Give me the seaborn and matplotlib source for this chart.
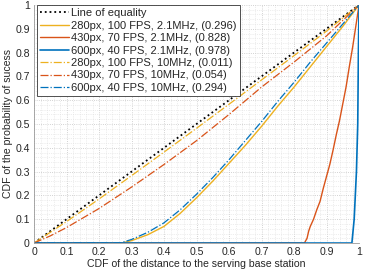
import numpy as np
import pandas as pd
import matplotlib
matplotlib.use("Agg")
import matplotlib.pyplot as plt
import seaborn as sns

# Curves (x = CDF of distance, y = CDF of success)
eq_x = [0.0, 1.0]
eq_y = [0.0, 1.0]

y280_21_x = [0.0, 0.27, 0.30, 0.35, 0.40, 0.45, 0.50, 0.55, 0.60, 0.65, 0.70, 0.75, 0.80, 0.85, 0.90, 0.95, 1.0]
y280_21_y = [0.0, 0.0, 0.01, 0.035, 0.07, 0.125, 0.19, 0.26, 0.335, 0.41, 0.49, 0.575, 0.655, 0.74, 0.825, 0.91, 1.0]

y430_21_x = [0.0, 0.832, 0.84, 0.845, 0.85, 0.86, 0.87, 0.88, 0.89, 0.90, 0.91, 0.92, 0.93, 0.94, 0.95, 0.96, 0.97, 0.98, 0.99, 1.0]
y430_21_y = [0.0, 0.0, 0.02, 0.05, 0.07, 0.1, 0.14, 0.175, 0.23, 0.28, 0.33, 0.39, 0.455, 0.515, 0.585, 0.655, 0.74, 0.82, 0.91, 1.0]

y600_21_x = [0.0, 0.978, 0.985, 0.992, 0.996, 0.998, 1.0]
y600_21_y = [0.0, 0.0, 0.1, 0.3, 0.5, 0.8, 1.0]

y280_10_x = [0.0, 0.1, 0.2, 0.3, 0.4, 0.5, 0.6, 0.7, 0.8, 0.9, 1.0]
y280_10_y = [0.0, 0.09, 0.185, 0.283, 0.382, 0.482, 0.583, 0.685, 0.787, 0.89, 1.0]

y430_10_x = [0.0, 0.05, 0.1, 0.2, 0.3, 0.4, 0.5, 0.6, 0.7, 0.8, 0.9, 1.0]
y430_10_y = [0.0, 0.03, 0.065, 0.145, 0.235, 0.33, 0.43, 0.54, 0.655, 0.76, 0.87, 1.0]

y600_10_x = [0.0, 0.265, 0.30, 0.35, 0.40, 0.45, 0.50, 0.55, 0.60, 0.65, 0.70, 0.75, 0.80, 0.85, 0.90, 0.95, 1.0]
y600_10_y = [0.0, 0.0, 0.015, 0.045, 0.085, 0.14, 0.205, 0.275, 0.35, 0.43, 0.51, 0.595, 0.675, 0.76, 0.84, 0.92, 1.0]

ticks = [0.0, 0.1, 0.2, 0.3, 0.4, 0.5, 0.6, 0.7, 0.8, 0.9, 1.0]
tick_labels = ["0", "0.1", "0.2", "0.3", "0.4", "0.5", "0.6", "0.7", "0.8", "0.9", "1"]

labels = [
    "Line of equality",
    "280px, 100 FPS, 2.1MHz, (0.296)",
    "430px, 70 FPS, 2.1MHz, (0.828)",
    "600px, 40 FPS, 2.1MHz, (0.978)",
    "280px, 100 FPS, 10MHz, (0.011)",
    "430px, 70 FPS, 10MHz, (0.054)",
    "600px, 40 FPS, 10MHz, (0.294)",
]

blue, red, yellow = "#0072BD", "#D95319", "#EDB120"

sns.set_theme(style="white")
plt.rcParams["font.family"] = ["Liberation Sans", "DejaVu Sans"]

fig = plt.figure(figsize=(3.66, 2.74), dpi=100)
ax = fig.add_axes([0.093, 0.113, 0.888, 0.869])

series = [
    (eq_x, eq_y, "black", ":", 1.3),
    (y280_21_x, y280_21_y, yellow, "-", 1.0),
    (y430_21_x, y430_21_y, red, "-", 1.0),
    (y600_21_x, y600_21_y, blue, "-", 1.2),
    (y280_10_x, y280_10_y, yellow, "-.", 0.9),
    (y430_10_x, y430_10_y, red, "-.", 0.9),
    (y600_10_x, y600_10_y, blue, "-.", 0.9),
]

for (xs, ys, c, ls, lw), lab in zip(series, labels):
    df = pd.DataFrame({"x": xs, "y": ys})
    sns.lineplot(data=df, x="x", y="y", ax=ax, color=c, linestyle=ls,
                 linewidth=lw, label=lab, estimator=None, sort=False)

ax.set_xlim(0, 1)
ax.set_ylim(0, 1)
ax.set_xticks(ticks)
ax.set_xticklabels(tick_labels)
ax.set_yticks(ticks)
ax.set_yticklabels(tick_labels)
minor = np.arange(0, 1.001, 0.02)
ax.set_xticks(minor, minor=True)
ax.set_yticks(minor, minor=True)

ax.grid(which="major", color="#c4c4c4", linestyle=":", linewidth=0.6)
ax.grid(which="minor", color="#dedede", linestyle=":", linewidth=0.5)
ax.set_axisbelow(True)

for s in ["top", "right"]:
    ax.spines[s].set_visible(False)
for s in ["left", "bottom"]:
    ax.spines[s].set_color("#9a9a9a")
    ax.spines[s].set_linewidth(0.6)

ax.tick_params(which="major", direction="in", length=3, width=0.5, color="#9a9a9a",
               labelsize=7.6, labelcolor="#262626", pad=3)
ax.tick_params(which="minor", length=0)

ax.set_xlabel("CDF of the distance to the serving base station", fontsize=7.6, color="#262626", labelpad=1)
ax.set_ylabel("CDF of the probability of sucess", fontsize=7.6, color="#262626", labelpad=2)

leg = ax.legend(loc="upper left", bbox_to_anchor=(0.008, 1.0), fontsize=8, frameon=True,
                fancybox=False, framealpha=1, edgecolor="#333333", handlelength=2.6,
                handletextpad=0.2, borderpad=0.3, labelspacing=0.22, borderaxespad=0)
leg.get_frame().set_linewidth(0.6)

fig.savefig("out.png", dpi=100)
